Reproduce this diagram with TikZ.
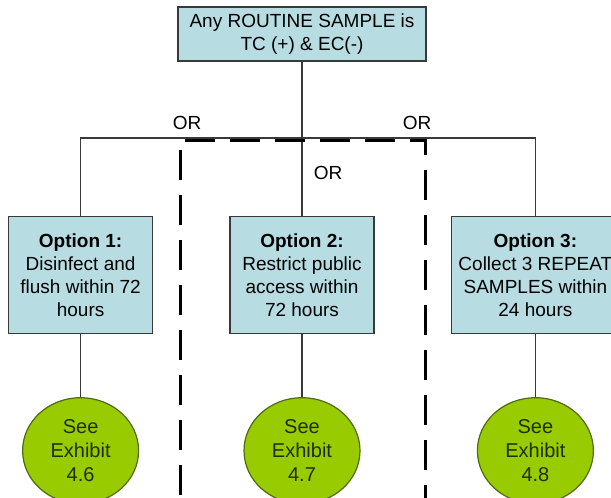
\documentclass[tikz,border=0pt]{standalone}
\usepackage{fontspec}
\setmainfont{Liberation Sans}
\usetikzlibrary{positioning, shapes.geometric}
\definecolor{boxfill}{HTML}{B7DDE3}
\definecolor{boxline}{HTML}{3A3A3A}
\definecolor{exfill}{HTML}{99CC00}
\definecolor{exline}{HTML}{4F6A10}
\definecolor{extext}{HTML}{1E2E00}
\tikzstyle{topbox} = [rectangle, draw=boxline, fill=boxfill, line width=1.4pt, align=center, inner sep=0pt, minimum width=248pt, minimum height=54pt, font=\fontsize{19}{23}\selectfont]
\tikzstyle{optbox} = [topbox, minimum width=144pt, minimum height=117pt]
\tikzstyle{exhibit} = [ellipse, draw=exline, fill=exfill, text=extext, line width=1.2pt, align=center, inner sep=0pt, minimum width=116pt, minimum height=106pt, font=\fontsize{20}{24}\selectfont]
\tikzstyle{link} = [line width=1.2pt, draw=boxline]
\tikzstyle{dashbox} = [line width=3pt, dash pattern=on 30pt off 15pt]
\tikzstyle{ortext} = [inner sep=0pt, font=\fontsize{19}{23}\selectfont]

\begin{document}
\begin{tikzpicture}[x=1pt, y=-1pt, align=center, node distance=0pt]

\clip (0,0) rectangle (611,498);

\node(top)[topbox] at (302,34) {Any ROUTINE SAMPLE is\\TC (+) \& EC(-)};

\node(O2)[optbox, below = 154pt of top] {\textbf{Option 2:}\\Restrict public\\access within\\72 hours};
\node(O1)[optbox, left = 76pt of O2] {\textbf{Option 1:}\\Disinfect and\\flush within 72\\hours};
\node(O3)[optbox, right = 76pt of O2, minimum width=168pt] {\textbf{Option 3:}\\Collect 3 REPEAT\\SAMPLES within\\24 hours};

\node(E1)[exhibit, below = 63pt of O1] {See\\Exhibit\\4.6};
\node(E2)[exhibit, below = 63pt of O2] {See\\Exhibit\\4.7};
\node(E3)[exhibit, below = 63pt of O3] {See\\Exhibit\\4.8};

\coordinate (bar) at (302,138);
\draw [link] (top) -- (O2);
\draw [link] (O1.north) |- (bar) -| (O3.north);
\draw [link] (O1) -- (E1);
\draw [link] (O2) -- (E2);
\draw [link] (O3) -- (E3);

\node(or1)[ortext] at (187,123) {OR};
\node(or2)[ortext] at (417,123) {OR};
\node(or3)[ortext] at (328,173) {OR};

% dashed frame round option 2
\coordinate (dtl) at (180,140);
\coordinate (dtr) at (425,140);
\coordinate (dbl) at (180,520);
\coordinate (dbr) at (425,520);
\draw [dashbox, dash phase=35pt] (dtl) -- (dbl);
\draw [dashbox, dash phase=40pt] (dtl) -- (dtr) -- (dbr);

\end{tikzpicture}
\end{document}
